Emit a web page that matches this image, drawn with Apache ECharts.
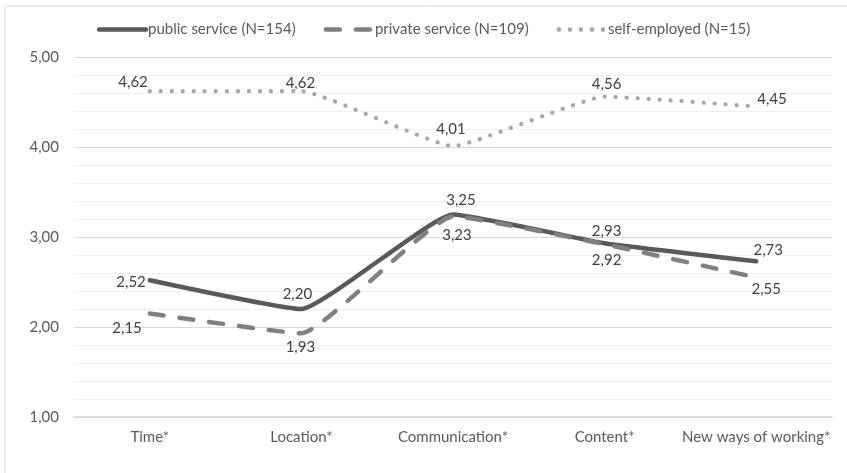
<!DOCTYPE html>
<html>
<head>
<meta charset="utf-8">
<script src="https://cdn.jsdelivr.net/npm/echarts@6/dist/echarts.min.js"></script>
<style>
  html, body { margin: 0; padding: 0; background: #ffffff; }
  #chart { width: 847px; height: 473px; }
</style>
</head>
<body>
<div id="chart"></div>
<script>
// Mean scores per dimension, by employment group
const categories = ['Time*', 'Location*', 'Communication*', 'Content*', 'New ways of working*'];
const publicService = [2.52, 2.20, 3.25, 2.93, 2.73];
const privateService = [2.15, 1.93, 3.23, 2.92, 2.55];
const selfEmployed = [4.62, 4.62, 4.01, 4.56, 4.45];
const seriesNames = ['public service (N=154)', 'private service (N=109)', 'self-employed (N=15)'];
const yTicks = [1, 2, 3, 4, 5];

const FONT = 'Lato, "Open Sans", sans-serif';
const FS = 15;
const fmt = v => v.toFixed(2).replace('.', ',');

// Label anchor offsets (px) from each point: [dx, dy, horizontal alignment]
const publicLabelPos = [[-4, 2, 'right'], [-4, -15, 'center'], [8, -14, 'center'], [2, -12, 'center'], [12, -11, 'center']];
const privateLabelPos = [[-8, 15, 'right'], [-1, 14, 'center'], [4, 19, 'center'], [2, 16, 'center'], [10, 12, 'center']];
const selfLabelPos = [[-2, -9, 'right'], [-1, -8, 'center'], [-2, -17, 'center'], [2, -12, 'center'], [1, -7, 'left']];

function buildData(values, pos) {
  return values.map((v, i) => ({
    value: v,
    label: {
      show: true,
      position: [pos[i][0], pos[i][1]],
      align: pos[i][2],
      verticalAlign: 'middle'
    }
  }));
}

const labelStyle = {
  show: true,
  fontFamily: FONT,
  fontSize: FS,
  color: '#404040',
  formatter: p => fmt(p.value)
};

function lineSeries(name, values, pos, color, lineStyleExtra, z) {
  return {
    name: name,
    type: 'line',
    data: buildData(values, pos),
    smooth: 0.12,
    showSymbol: true,
    symbol: 'circle',
    symbolSize: 0,
    lineStyle: Object.assign({ color: color, width: 4.5, cap: 'round', join: 'round' }, lineStyleExtra),
    // markers are invisible; only the line and the value labels are drawn
    itemStyle: { color: 'rgba(0,0,0,0)', borderWidth: 0 },
    label: labelStyle,
    labelLayout: { hideOverlap: false },
    z: z
  };
}

const chart = echarts.init(document.getElementById('chart'), null, { renderer: 'canvas' });

chart.setOption({
  backgroundColor: '#ffffff',
  animation: false,
  graphic: [{
    type: 'rect',
    shape: { x: 5, y: 6, width: 860, height: 490 },
    style: { fill: 'none', stroke: '#d9d9d9', lineWidth: 1 },
    silent: true,
    z: -10
  }],
  legend: {
    top: 17,
    left: 'center',
    itemWidth: 47,
    itemHeight: 14,
    itemGap: 28,
    itemStyle: { opacity: 0 },
    lineStyle: { width: 4.5 },
    textStyle: { fontFamily: FONT, fontSize: FS, color: '#595959', padding: [0, 0, 0, -3] },
    data: seriesNames
  },
  grid: { left: 74, right: 15, top: 57, bottom: 56, containLabel: false },
  xAxis: {
    type: 'category',
    data: categories,
    boundaryGap: true,
    axisLine: { show: true, lineStyle: { color: '#d9d9d9', width: 1.5 } },
    axisTick: { show: false },
    axisLabel: { interval: 0, fontFamily: FONT, fontSize: FS, color: '#595959', margin: 13 }
  },
  yAxis: {
    type: 'value',
    min: yTicks[0],
    max: yTicks[yTicks.length - 1],
    interval: 1,
    axisLine: { show: false },
    axisTick: { show: false },
    axisLabel: { fontFamily: FONT, fontSize: FS, color: '#595959', margin: 15, formatter: v => fmt(v) },
    splitLine: { show: true, lineStyle: { color: '#d9d9d9', width: 1 } },
    minorTick: { show: false, splitNumber: 5 },
    minorSplitLine: { show: true, lineStyle: { color: '#efefef', width: 1 } }
  },
  series: [
    lineSeries(seriesNames[0], publicService, publicLabelPos, '#595959', {}, 3),
    lineSeries(seriesNames[1], privateService, privateLabelPos, '#808080', { type: [14, 16] }, 4),
    lineSeries(seriesNames[2], selfEmployed, selfLabelPos, '#a6a6a6', { width: 4.2, type: [0.1, 10.9] }, 2)
  ]
});
</script>
</body>
</html>
